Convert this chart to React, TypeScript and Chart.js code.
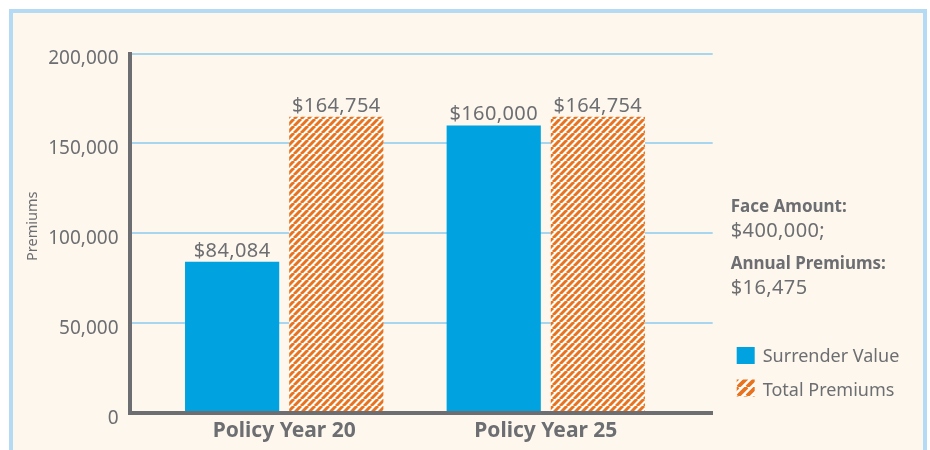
import React, { useEffect, useRef } from "react";
import { Chart, registerables } from "chart.js";

Chart.register(...registerables);

const categories = ["Policy Year 20", "Policy Year 25"];
const seriesNames = ["Surrender Value", "Total Premiums"];
const surrenderValues = [84084, 160000];
const totalPremiums = [164754, 164754];
const yTickValues = [0, 50000, 100000, 150000, 200000];
const yAxisTitle = "Premiums";
const noteLabels = ["Face Amount:", "Annual Premiums:"];
const noteValues = ["$400,000;", "$16,475"];

const GRAY = "#6d6e71";
const BLUE = "#00a3e0";
const ORANGE = "#e8731e";
const GRID = "#a9d6ef";
const CREAM = "#fdf7ee";
const FRAME = "#b5dbf4";
const FONT = "'Noto Sans', sans-serif";

function makeHatch(size: number, width: number) {
  const c = document.createElement("canvas");
  c.width = size;
  c.height = size;
  const g = c.getContext("2d")!;
  g.fillStyle = "#ffffff";
  g.fillRect(0, 0, size, size);
  g.strokeStyle = ORANGE;
  g.lineWidth = width;
  for (let k = -1; k <= 1; k++) {
    g.beginPath();
    g.moveTo(k * size, size);
    g.lineTo(k * size + size, 0);
    g.stroke();
  }
  return g.createPattern(c, "repeat")!;
}

const overlayPlugin = {
  id: "overlay",
  afterDraw(chart: any) {
    const { ctx } = chart;
    const y = chart.scales.y;
    const area = chart.chartArea;
    ctx.save();
    ctx.fillStyle = GRAY;
    ctx.textBaseline = "alphabetic";

    // y tick labels
    ctx.font = `19px ${FONT}`;
    ctx.textAlign = "right";
    yTickValues.forEach((v) => {
      ctx.fillText(v.toLocaleString("en-US"), y.right - 11, y.getPixelForValue(v) + 10.5);
    });

    // y title
    ctx.save();
    ctx.translate(36.5, (area.top + area.bottom) / 2 - 7);
    ctx.rotate(-Math.PI / 2);
    ctx.textAlign = "center";
    ctx.font = `14.5px ${FONT}`;
    ctx.fillText(yAxisTitle, 0, 0);
    ctx.restore();

    // value labels
    ctx.font = `20px ${FONT}`;
    ctx.textAlign = "center";
    (ctx as any).letterSpacing = "0.4px";
    chart.data.datasets.forEach((ds: any, di: number) => {
      const meta = chart.getDatasetMeta(di);
      meta.data.forEach((el: any, i: number) => {
        const v = ds.data[i].y;
        ctx.fillText("$" + v.toLocaleString("en-US"), el.x, el.y - 5.3);
      });
    });

    // notes
    ctx.textAlign = "left";
    const nx = area.right + 18;
    const labelBase = [211.7, 269.3];
    const valueBase = [236.5, 294.3];
    noteLabels.forEach((t, i) => {
      (ctx as any).letterSpacing = "0px";
      ctx.font = `bold 17px ${FONT}`;
      ctx.fillText(t, nx, labelBase[i]);
      (ctx as any).letterSpacing = "0.4px";
      ctx.font = `20px ${FONT}`;
      ctx.fillText(noteValues[i], nx, valueBase[i]);
    });

    // legend
    (ctx as any).letterSpacing = "0px";
    const boxY = [347, 379.5];
    const textBase = [361.7, 396];
    const legendFills = [BLUE, makeHatch(9, 3.8)];
    seriesNames.forEach((name, i) => {
      ctx.fillStyle = legendFills[i];
      ctx.fillRect(area.right + 24, boxY[i], 18, 17);
      ctx.fillStyle = GRAY;
      ctx.font = `18px ${FONT}`;
      ctx.fillText(name, area.right + 50, textBase[i]);
    });
    ctx.restore();
  },
};

export default function App() {
  const canvasRef = useRef<HTMLCanvasElement | null>(null);

  useEffect(() => {
    if (!canvasRef.current) return;
    Chart.defaults.font.family = FONT;
    const hatch = makeHatch(7, 3.0);
    const chart = new Chart(canvasRef.current, {
      type: "bar",
      data: {
        datasets: [
          {
            label: seriesNames[0],
            data: surrenderValues.map((v, i) => ({ x: i + 1, y: v })),
            backgroundColor: BLUE,
            categoryPercentage: 0.7963,
            barPercentage: 0.9045,
          },
          {
            label: seriesNames[1],
            data: totalPremiums.map((v, i) => ({ x: i + 1, y: v })),
            backgroundColor: hatch as any,
            categoryPercentage: 0.7963,
            barPercentage: 0.9045,
          },
        ],
      } as any,
      options: {
        responsive: false,
        animation: false,
        devicePixelRatio: 1,
        layout: { padding: { left: 0, top: 53.5, right: 217.3, bottom: 0 } },
        plugins: { legend: { display: false }, tooltip: { enabled: false } },
        scales: {
          x: {
            type: "linear",
            offset: false,
            bounds: "data",
            grace: 0,
            min: 0.4086,
            max: 2.638,
            afterBuildTicks: (s: any) => {
              s.ticks = categories.map((_, i) => ({ value: i + 1 }));
            },
            afterFit: (s: any) => {
              s.height = 37;
            },
            grid: { display: false, drawTicks: false, offset: false },
            border: { display: true, color: GRAY, width: 4, z: 1 },
            ticks: {
              callback: (v: any) => categories[Number(v) - 1] ?? "",
              color: GRAY,
              font: { family: FONT, size: 21, weight: "bold" },
              padding: 5,
              maxRotation: 0,
              autoSkip: false,
            },
          },
          y: {
            min: 0,
            max: 200000,
            afterBuildTicks: (s: any) => {
              s.ticks = yTickValues.map((v) => ({ value: v }));
            },
            afterFit: (s: any) => {
              s.width = 129.5;
            },
            grid: { color: GRID, lineWidth: 2, drawTicks: false },
            border: { display: true, color: GRAY, width: 4, z: 1 },
            ticks: { display: false },
          },
        } as any,
      },
      plugins: [overlayPlugin],
    });
    return () => chart.destroy();
  }, []);

  return (
    <div
      style={{
        position: "absolute",
        left: 0,
        top: 0,
        width: 930,
        height: 450,
        overflow: "hidden",
      }}
    >
      <div
        style={{
          position: "absolute",
          left: 9,
          top: 9,
          width: 918,
          height: 470,
          boxSizing: "border-box",
          border: `4px solid ${FRAME}`,
          background: CREAM,
        }}
      />
      <canvas
        ref={canvasRef}
        width={930}
        height={450}
        style={{ position: "absolute", left: 0, top: 0, display: "block" }}
      />
    </div>
  );
}
